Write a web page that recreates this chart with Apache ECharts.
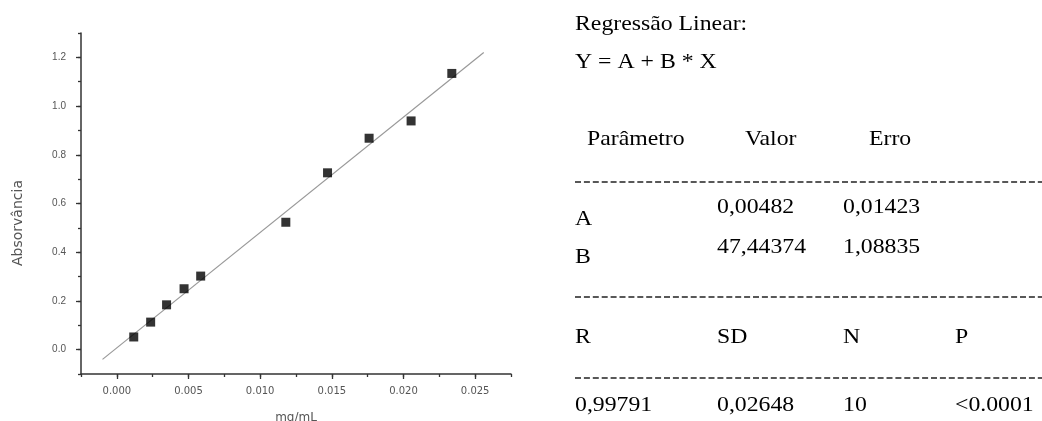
<!DOCTYPE html>
<html>
<head>
<meta charset="utf-8">
<script src="https://cdn.jsdelivr.net/npm/echarts@6/dist/echarts.min.js"></script>
<style>
  html, body { margin: 0; padding: 0; background: #fff; }
  #chart { width: 1042px; height: 421px; }
</style>
</head>
<body>
<div id="chart"></div>
<script>
// calibration points (mg/mL vs absorbance)
const concMgMl = [0.00118, 0.00236, 0.00347, 0.00469, 0.00585, 0.01179, 0.0147, 0.0176, 0.02053, 0.02337]
const absorbance = [0.052, 0.113, 0.184, 0.250, 0.302, 0.523, 0.726, 0.868, 0.939, 1.134]
// ends of the drawn regression line
const fitX = [-0.001, 0.0256]
const fitY = [-0.04, 1.22]

const xTicks = [0, 0.005, 0.01, 0.015, 0.02, 0.025]
const yTicks = [0, 0.2, 0.4, 0.6, 0.8, 1.0, 1.2]

// regression report
const reportTitle = 'Regressão Linear:'
const reportModel = 'Y = A + B * X'
const paramHeaders = ['Parâmetro', 'Valor', 'Erro']
const paramNames = ['A', 'B']
const paramValues = ['0,00482', '47,44374']
const paramErrors = ['0,01423', '1,08835']
const statHeaders = ['R', 'SD', 'N', 'P']
const statValues = ['0,99791', '0,02648', '10', '<0.0001']

const chart = echarts.init(document.getElementById('chart'))

const axisColor = '#333'
const labelColor = '#555'
const serif = '"Liberation Serif", "Times New Roman", serif'
const FS = 22

const txt = (str, x, baseline) => ({
  type: 'text',
  x,
  y: baseline - 7.5,
  scaleX: 1.08,
  silent: true,
  style: {
    text: str, x: 0, y: 0,
    fill: '#000',
    font: `${FS}px ${serif}`,
    verticalAlign: 'middle',
    align: 'left',
  },
})

const dashes = (y) => ({
  type: 'line',
  silent: true,
  shape: { x1: 575, y1: y, x2: 1042, y2: y },
  style: { stroke: '#222', lineWidth: 1.6, lineDash: [6, 2.9] },
})

const cols = [575, 717, 843, 955]
const graphic = [
  txt(reportTitle, 575, 32),
  txt(reportModel, 575, 70),
  txt(paramHeaders[0], 587, 147),
  txt(paramHeaders[1], 745, 147),
  txt(paramHeaders[2], 869, 147),
  dashes(182),
  dashes(297),
  dashes(378),
]
paramNames.forEach((n, i) => {
  graphic.push(txt(n, cols[0], 227 + i * 38))
  graphic.push(txt(paramValues[i], cols[1], 215 + i * 40))
  graphic.push(txt(paramErrors[i], cols[2], 215 + i * 40))
})
statHeaders.forEach((h, i) => {
  graphic.push(txt(h, cols[i], 345))
  graphic.push(txt(statValues[i], cols[i], 413))
})
graphic.push({
  type: 'text',
  x: 18,
  y: 223,
  rotation: Math.PI / 2,
  silent: true,
  style: {
    text: 'Absorvância',
    fill: labelColor,
    font: '14px "DejaVu Sans", sans-serif',
    align: 'center',
    verticalAlign: 'middle',
  },
})

const sans = '"Liberation Sans", Arial, sans-serif'

const options = {
  animation: false,
  grid: { left: 81, top: 33, right: 531, bottom: 47, outerBoundsMode: 'none', containLabel: false },
  xAxis: [
    {
      type: 'value',
      min: -0.0025,
      max: 0.0275,
      name: 'mg/mL',
      nameLocation: 'middle',
      nameGap: 38,
      nameTextStyle: { color: labelColor, fontSize: 12, fontFamily: '"DejaVu Sans", sans-serif' },
      splitLine: { show: false },
      axisLine: { onZero: false, lineStyle: { color: axisColor, width: 1.5 } },
      axisTick: { customValues: xTicks, length: 5, lineStyle: { color: axisColor, width: 1.3 } },
      axisLabel: {
        customValues: xTicks,
        margin: 12,
        color: labelColor,
        fontSize: 10,
        fontFamily: '"DejaVu Sans", sans-serif',
        formatter: (v) => v.toFixed(3),
      },
    },
    {
      type: 'value',
      min: -0.0025,
      max: 0.0275,
      interval: 0.0025,
      position: 'bottom',
      offset: 0,
      splitLine: { show: false },
      axisLine: { show: false, onZero: false },
      axisTick: { length: 3, lineStyle: { color: axisColor, width: 1.3 } },
      axisLabel: { show: false },
    },
  ],
  yAxis: [
    {
      type: 'value',
      min: -0.1,
      max: 1.3,
      splitLine: { show: false },
      axisLine: { show: true, onZero: false, lineStyle: { color: axisColor, width: 1.5 } },
      axisTick: { show: true, customValues: yTicks, length: 5, lineStyle: { color: axisColor, width: 1.3 } },
      axisLabel: {
        customValues: yTicks,
        margin: 15,
        color: labelColor,
        fontSize: 10,
        fontFamily: sans,
        formatter: (v) => v.toFixed(1),
      },
    },
    {
      type: 'value',
      min: -0.1,
      max: 1.3,
      interval: 0.1,
      position: 'left',
      offset: 0,
      splitLine: { show: false },
      axisLine: { show: false, onZero: false },
      axisTick: { show: true, length: 3, lineStyle: { color: axisColor, width: 1.3 } },
      axisLabel: { show: false },
    },
  ],
  series: [
    {
      type: 'line',
      data: fitX.map((x, i) => [x, fitY[i]]),
      showSymbol: false,
      symbol: 'none',
      lineStyle: { color: '#999', width: 1.2 },
      silent: true,
      z: 2,
    },
    {
      type: 'scatter',
      data: concMgMl.map((x, i) => [x, absorbance[i]]),
      symbol: 'rect',
      symbolSize: 9,
      itemStyle: { color: '#000' },
      z: 3,
    },
  ],
  graphic,
}

chart.setOption(options)
</script>
</body>
</html>
